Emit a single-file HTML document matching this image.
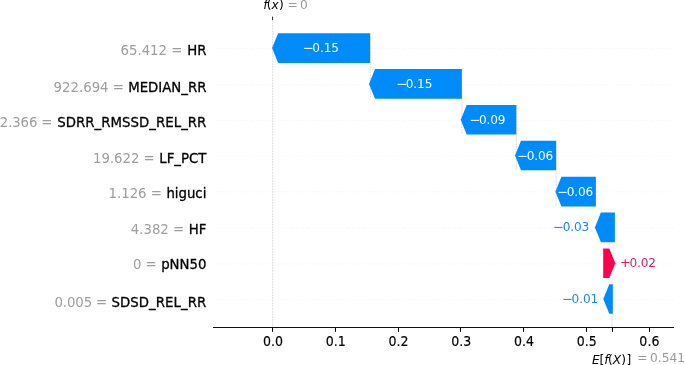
<!DOCTYPE html>
<html lang="en"><head><meta charset="utf-8"><title>SHAP waterfall</title>
<style>
html,body{margin:0;padding:0;background:#fff;}
body{width:685px;height:365px;overflow:hidden;}
svg{display:block;}
text{font-family:"DejaVu Sans","Liberation Sans",sans-serif;}
.t13{font-size:13.3px;}
.t12{font-size:12.2px;}
.tx{font-size:12.6px;}
.dg{font-size:12.1px;letter-spacing:-0.12px;}
.g{fill:#999999;}
.k{fill:#000;}
.i{font-style:oblique;}
.gl{fill:#9d9d9d;}
.nm{stroke:#000;stroke-width:0.3px;stroke-linejoin:round;}
.tx{stroke:#000;stroke-width:0.15px;}
</style></head><body>
<svg width="685" height="365" viewBox="0 0 685 365">
<rect width="685" height="365" fill="#fff"/>
<line x1="213.0" y1="48.70" x2="674.0" y2="48.70" stroke="#cccccc" stroke-width="0.52" stroke-dasharray="0.52 2.58"/>
<line x1="213.0" y1="84.80" x2="674.0" y2="84.80" stroke="#cccccc" stroke-width="0.52" stroke-dasharray="0.52 2.58"/>
<line x1="213.0" y1="120.70" x2="674.0" y2="120.70" stroke="#cccccc" stroke-width="0.52" stroke-dasharray="0.52 2.58"/>
<line x1="213.0" y1="155.90" x2="674.0" y2="155.90" stroke="#cccccc" stroke-width="0.52" stroke-dasharray="0.52 2.58"/>
<line x1="213.0" y1="191.80" x2="674.0" y2="191.80" stroke="#cccccc" stroke-width="0.52" stroke-dasharray="0.52 2.58"/>
<line x1="213.0" y1="228.00" x2="674.0" y2="228.00" stroke="#cccccc" stroke-width="0.52" stroke-dasharray="0.52 2.58"/>
<line x1="213.0" y1="263.90" x2="674.0" y2="263.90" stroke="#cccccc" stroke-width="0.52" stroke-dasharray="0.52 2.58"/>
<line x1="213.0" y1="299.70" x2="674.0" y2="299.70" stroke="#cccccc" stroke-width="0.52" stroke-dasharray="0.52 2.58"/>
<line x1="272.7" y1="19.7" x2="272.7" y2="327.5" stroke="#bbbbbb" stroke-width="0.52" stroke-dasharray="1.9 0.82"/>
<line x1="612.07" y1="289.02" x2="612.07" y2="327.5" stroke="#bbbbbb" stroke-width="0.52" stroke-dasharray="1.9 0.82"/>
<line x1="370.3" y1="33.30" x2="370.3" y2="98.70" stroke="#bbbbbb" stroke-width="0.52" stroke-dasharray="1.9 0.82"/>
<line x1="461.9" y1="69.10" x2="461.9" y2="134.60" stroke="#bbbbbb" stroke-width="0.52" stroke-dasharray="1.9 0.82"/>
<line x1="516.3" y1="105.00" x2="516.3" y2="170.30" stroke="#bbbbbb" stroke-width="0.52" stroke-dasharray="1.9 0.82"/>
<line x1="556.1" y1="140.70" x2="556.1" y2="206.45" stroke="#bbbbbb" stroke-width="0.52" stroke-dasharray="1.9 0.82"/>
<polygon points="370.1,33.30 278.10,33.30 272.1,48.10 278.10,62.90 370.1,62.90" fill="#008bfb"/>
<text class="t12" x="302.76" y="52.00" fill="#fff"><tspan textLength="11.0" lengthAdjust="spacingAndGlyphs">−</tspan><tspan dx="-1.4" class="dg">0.15</tspan></text>
<text class="t13" x="206.4" y="54.80" text-anchor="end"><tspan class="g gl" style="letter-spacing:0.0px">65.412 =</tspan><tspan class="k nm" dx="0.5" style="letter-spacing:0px"> HR</tspan></text>
<polygon points="461.9,69.10 375.00,69.10 369.0,83.90 375.00,98.70 461.9,98.70" fill="#008bfb"/>
<text class="t12" x="396.21" y="87.90" fill="#fff"><tspan textLength="11.0" lengthAdjust="spacingAndGlyphs">−</tspan><tspan dx="-1.4" class="dg">0.15</tspan></text>
<text class="t13" x="206.4" y="92.30" text-anchor="end"><tspan class="g gl" style="letter-spacing:0.0px">922.694 =</tspan><tspan class="k nm" dx="0" style="letter-spacing:0px"> MEDIAN_RR</tspan></text>
<polygon points="516.3,105.00 466.70,105.00 460.7,119.80 466.70,134.60 516.3,134.60" fill="#008bfb"/>
<text class="t12" x="469.41" y="124.20" fill="#fff"><tspan textLength="11.0" lengthAdjust="spacingAndGlyphs">−</tspan><tspan dx="-1.4" class="dg">0.09</tspan></text>
<text class="t13" x="206.4" y="127.30" text-anchor="end"><tspan class="g gl" style="letter-spacing:-0.12px">2.366 =</tspan><tspan class="k nm" dx="0.5" style="letter-spacing:0.045px"> SDRR_RMSSD_REL_RR</tspan></text>
<polygon points="556.1,140.70 521.00,140.70 515.0,155.50 521.00,170.30 556.1,170.30" fill="#008bfb"/>
<text class="t12" x="517.11" y="159.80" fill="#fff"><tspan textLength="11.0" lengthAdjust="spacingAndGlyphs">−</tspan><tspan dx="-1.4" class="dg">0.06</tspan></text>
<text class="t13" x="206.4" y="162.80" text-anchor="end"><tspan class="g gl" style="letter-spacing:-0.045px">19.622 =</tspan><tspan class="k nm" dx="0.4" style="letter-spacing:0px"> LF_PCT</tspan></text>
<polygon points="595.9,176.85 561.40,176.85 555.4,191.65 561.40,206.45 595.9,206.45" fill="#008bfb"/>
<text class="t12" x="557.11" y="196.05" fill="#fff"><tspan textLength="11.0" lengthAdjust="spacingAndGlyphs">−</tspan><tspan dx="-1.4" class="dg">0.06</tspan></text>
<text class="t13" x="206.4" y="197.90" text-anchor="end"><tspan class="g gl" style="letter-spacing:-0.04px">1.126 =</tspan><tspan class="k nm" dx="0.4" style="letter-spacing:0px"> higuci</tspan></text>
<polygon points="614.9,212.60 600.90,212.60 594.9,227.40 600.90,242.20 614.9,242.20" fill="#008bfb"/>
<text class="t12" x="553.11" y="231.05" fill="#2284e2"><tspan textLength="11.0" lengthAdjust="spacingAndGlyphs">−</tspan><tspan dx="-1.4" class="dg">0.03</tspan></text>
<text class="t13" x="206.4" y="233.70" text-anchor="end"><tspan class="g gl" style="letter-spacing:-0.02px">4.382 =</tspan><tspan class="k nm" dx="0.4" style="letter-spacing:0px"> HF</tspan></text>
<polygon points="603.2,248.45 609.30,248.45 615.3,263.25 609.30,278.05 603.2,278.05" fill="#ff0051"/>
<text class="t12" x="619.81" y="267.45" fill="#de1c5d"><tspan textLength="11.0" lengthAdjust="spacingAndGlyphs">+</tspan><tspan dx="-1.4" class="dg">0.02</tspan></text>
<text class="t13" x="206.4" y="269.10" text-anchor="end"><tspan class="g gl" style="letter-spacing:-0.1px">0 =</tspan><tspan class="k nm" dx="0.4" style="letter-spacing:0px"> pNN50</tspan></text>
<polygon points="612.8,284.20 609.30,284.20 603.3,299.00 609.30,313.80 612.8,313.80" fill="#008bfb"/>
<text class="t12" x="562.01" y="303.00" fill="#2284e2"><tspan textLength="11.0" lengthAdjust="spacingAndGlyphs">−</tspan><tspan dx="-1.4" class="dg">0.01</tspan></text>
<text class="t13" x="206.4" y="306.55" text-anchor="end"><tspan class="g gl" style="letter-spacing:-0.12px">0.005 =</tspan><tspan class="k nm" dx="0" style="letter-spacing:0.07px"> SDSD_REL_RR</tspan></text>
<line x1="213.0" y1="327.5" x2="674.0" y2="327.5" stroke="#111" stroke-width="1.12"/>
<line x1="272.50" y1="327.5" x2="272.50" y2="331.8" stroke="#000" stroke-width="1"/>
<text class="tx k" transform="translate(273.00,345.75) scale(1,1.08)" text-anchor="middle">0.0</text>
<line x1="335.50" y1="327.5" x2="335.50" y2="331.8" stroke="#000" stroke-width="1"/>
<text class="tx k" transform="translate(335.73,345.75) scale(1,1.08)" text-anchor="middle">0.1</text>
<line x1="398.50" y1="327.5" x2="398.50" y2="331.8" stroke="#000" stroke-width="1"/>
<text class="tx k" transform="translate(398.46,345.75) scale(1,1.08)" text-anchor="middle">0.2</text>
<line x1="460.50" y1="327.5" x2="460.50" y2="331.8" stroke="#000" stroke-width="1"/>
<text class="tx k" transform="translate(461.19,345.75) scale(1,1.08)" text-anchor="middle">0.3</text>
<line x1="523.50" y1="327.5" x2="523.50" y2="331.8" stroke="#000" stroke-width="1"/>
<text class="tx k" transform="translate(523.92,345.75) scale(1,1.08)" text-anchor="middle">0.4</text>
<line x1="586.50" y1="327.5" x2="586.50" y2="331.8" stroke="#000" stroke-width="1"/>
<text class="tx k" transform="translate(586.65,345.75) scale(1,1.08)" text-anchor="middle">0.5</text>
<line x1="649.50" y1="327.5" x2="649.50" y2="331.8" stroke="#000" stroke-width="1"/>
<text class="tx k" transform="translate(649.38,345.75) scale(1,1.08)" text-anchor="middle">0.6</text>
<line x1="612.50" y1="327.5" x2="612.50" y2="331.8" stroke="#000" stroke-width="1"/>
<line x1="272.6" y1="20.099999999999998" x2="272.6" y2="16.599999999999998" stroke="#000" stroke-width="0.85"/>
<text class="t12 k" x="263.2" y="9.45"><tspan class="i">f</tspan><tspan dx="-0.8">(</tspan><tspan class="i">x</tspan><tspan dx="0.3">)</tspan></text>
<text class="t12 g" x="287.4" y="9.45">=<tspan dx="2.4">0</tspan></text>
<text class="t12 k" x="591.9" y="363.5"><tspan class="i">E</tspan>[<tspan class="i">f</tspan><tspan dx="-0.6">(</tspan><tspan class="i">X</tspan>)<tspan dx="0.6">]</tspan></text>
<text class="t12 g" x="637.2" y="361.6">=<tspan dx="2.6">0.541</tspan></text>
</svg></body></html>
